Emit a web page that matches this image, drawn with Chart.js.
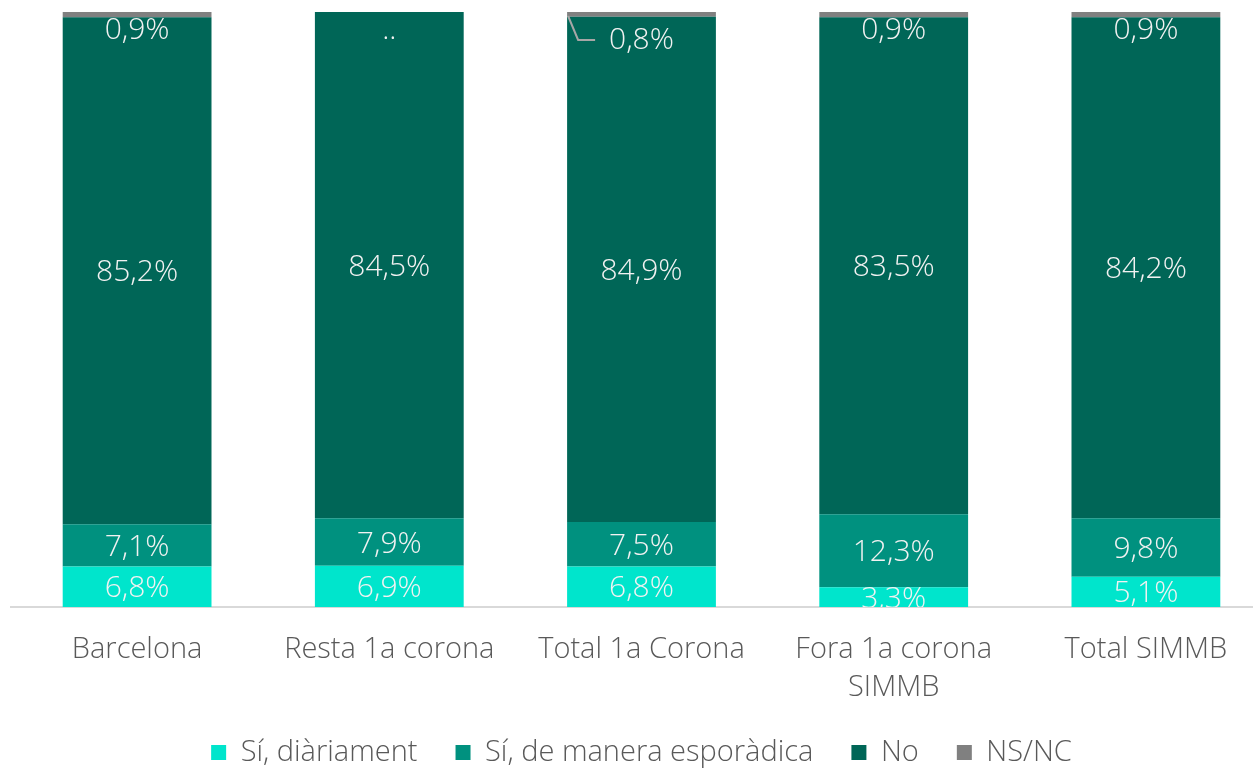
<!DOCTYPE html>
<html>
<head>
<meta charset="utf-8">
<script src="https://cdn.jsdelivr.net/npm/chart.js@4.4.1/dist/chart.umd.min.js"></script>
<style>
  html, body { margin:0; padding:0; background:#fff; overflow:hidden; }
  #wrap { width:1253px; height:768px; overflow:hidden; }
</style>
</head>
<body>
<div id="wrap"><canvas id="chart" width="1272" height="777"></canvas></div>
<script>
// -------------------- DATA --------------------
const categories = ["Barcelona", "Resta 1a corona", "Total 1a Corona", ["Fora 1a corona", "SIMMB"], "Total SIMMB"];
const seriesNames = ["Sí, diàriament", "Sí, de manera esporàdica", "No", "NS/NC"];
const siDiari = [6.8, 6.9, 6.8, 3.3, 5.1];
const siEsporadic = [7.1, 7.9, 7.5, 12.3, 9.8];
const noValues = [85.2, 84.5, 84.9, 83.5, 84.2];
const nsnc = [0.9, null, 0.8, 0.9, 0.9];   // null = ".." in the source

const colors = ["#00e5cc", "#00917f", "#006657", "#808080"];
const FONT = "'Open Sans', Lato, sans-serif";

// -------------------- 100% STACK --------------------
const rawSeries = [siDiari, siEsporadic, noValues, nsnc];
const totals = categories.map((c, i) => rawSeries.reduce((s, arr) => s + (arr[i] || 0), 0));
const shares = rawSeries.map(arr => arr.map((v, i) => v == null ? null : v / totals[i] * 100));

function fmt(v){
    return v == null ? ".." : v.toFixed(1).replace(".", ",") + "%";
}

// -------------------- LABEL PLUGIN --------------------
const segmentLabels = {
    id: "segmentLabels",
    afterDatasetsDraw(chart){
        const ctx = chart.ctx;
        const area = chart.chartArea;
        const yScale = chart.scales.y;
        const xScale = chart.scales.x;
        ctx.save();
        ctx.beginPath();
        ctx.rect(area.left, area.top - 20, area.right - area.left, area.bottom - area.top + 20);
        ctx.clip();
        ctx.font = "300 30px " + FONT;
        ctx.fillStyle = "#f2f2f2";
        ctx.textAlign = "center";
        ctx.textBaseline = "middle";
        rawSeries.forEach((arr, d) => {
            const meta = chart.getDatasetMeta(d);
            arr.forEach((v, i) => {
                const x = xScale.getPixelForValue(i);
                let y;
                if (d === 3) {
                    y = yScale.getPixelForValue(100) + 18;
                    if (i === 2) {
                        // moved label with leader line
                        y += 10;
                        const bar = meta.data[i];
                        const left = bar.x - bar.width / 2;
                        ctx.save();
                        ctx.strokeStyle = "#a6a6a6";
                        ctx.lineWidth = 2;
                        ctx.beginPath();
                        ctx.moveTo(left + 1, yScale.getPixelForValue(100) + 4);
                        ctx.lineTo(left + 11, y);
                        ctx.lineTo(left + 28, y);
                        ctx.stroke();
                        ctx.restore();
                    }
                } else {
                    const bar = meta.data[i];
                    y = (bar.y + bar.base) / 2 + 2;
                }
                ctx.fillText(fmt(v), x, y);
            });
        });
        ctx.restore();
    }
};

// -------------------- CHART --------------------
const datasets = seriesNames.map((name, d) => ({
    label: name,
    data: shares[d],
    backgroundColor: colors[d],
    borderWidth: 0,
    categoryPercentage: 1,
    barPercentage: 0.59
}));

new Chart(document.getElementById("chart"), {
    type: "bar",
    data: { labels: categories, datasets },
    options: {
        responsive: false,
        animation: false,
        layout: { padding: { left: 11, right: 0, top: 12, bottom: 0 } },
        plugins: {
            tooltip: { enabled: false },
            legend: {
                position: "bottom",
                labels: {
                    color: "#595959",
                    font: { family: FONT, size: 29, weight: 300 },
                    boxWidth: 15,
                    boxHeight: 15,
                    padding: 38
                }
            }
        },
        scales: {
            x: {
                stacked: true,
                grid: { display: false, drawTicks: false },
                border: { color: "#d9d9d9", width: 2 },
                ticks: {
                    color: "#595959",
                    font: { family: FONT, size: 29, weight: 300, lineHeight: 1.3 },
                    padding: 24,
                    maxRotation: 0,
                    autoSkip: false
                },
                afterFit(scale){ scale.height = 93; }
            },
            y: {
                stacked: true,
                display: false,
                min: 0,
                max: 100
            }
        }
    },
    plugins: [segmentLabels]
});
</script>
</body>
</html>
